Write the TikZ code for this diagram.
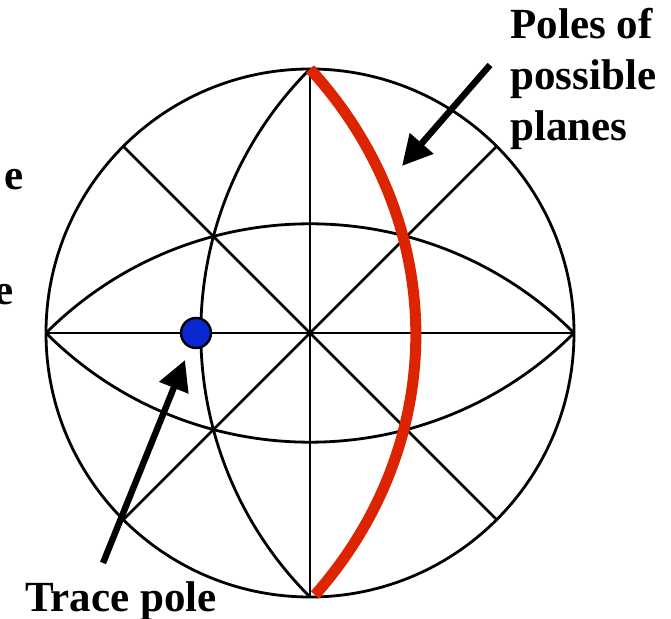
\documentclass[tikz,border=0pt]{standalone}
\usepackage{fontspec}
\setmainfont{Liberation Serif}
\usetikzlibrary{arrows.meta}
\definecolor{polered}{RGB}{221,36,0}
\definecolor{poleblue}{RGB}{10,40,210}

\begin{document}
\begin{tikzpicture}[
            x=0.5pt, y=-0.5pt,
            net/.style={line width=1.4pt, black},
            rim/.style={circle, draw, net, minimum size=264pt, inner sep=0pt, outer sep=0pt},
            poles/.style={line width=5.5pt, polered},
            pointer/.style={line width=3.2pt, -{Triangle[length=15pt, width=15pt]}},
            lbl/.style={font=\fontsize{21.5}{25.5}\selectfont\bfseries, align=left, inner sep=0pt}
        ]
            \useasboundingbox (0,0) rectangle (671,619);

            % Net
            \node[rim] (net) at (310,333) {};
            \foreach \a/\b in {north/south, west/east, north west/south east, south west/north east} {
                \draw[net] (net.\a) -- (net.\b);
            }
            \draw[net] (net.north) to[bend right=45] (net.south);
            \draw[net] (net.west) to[bend left=45] (net.east);
            \draw[net] (net.west) to[bend right=45] (net.east);

            % Poles
            \coordinate (redtop) at (310,69);
            \coordinate (redbot) at (315,595);
            \draw[poles] (redtop) to[bend left=42] (redbot);
            \node[circle, draw, fill=poleblue, line width=1.2pt, minimum size=15pt, inner sep=0pt] (trace) at (196,333) {};

            % Labels
            \node[lbl, anchor=base west] (poleslbl) at (510,141) {Poles of\\possible\\planes};
            \node[lbl, anchor=base west] (tracelbl) at (25,612) {Trace pole};
            \node[lbl, anchor=base east] (cuta) at (24,190) {e};
            \node[lbl, anchor=base east] (cutb) at (14,305) {e};

            % Arrows
            \coordinate (pa) at (490,65);
            \coordinate (pb) at (402,166);
            \coordinate (ta) at (103,563);
            \coordinate (tb) at (185,360);
            \draw[pointer] (pa) -- (pb);
            \draw[pointer] (ta) -- (tb);
        \end{tikzpicture}
\end{document}
